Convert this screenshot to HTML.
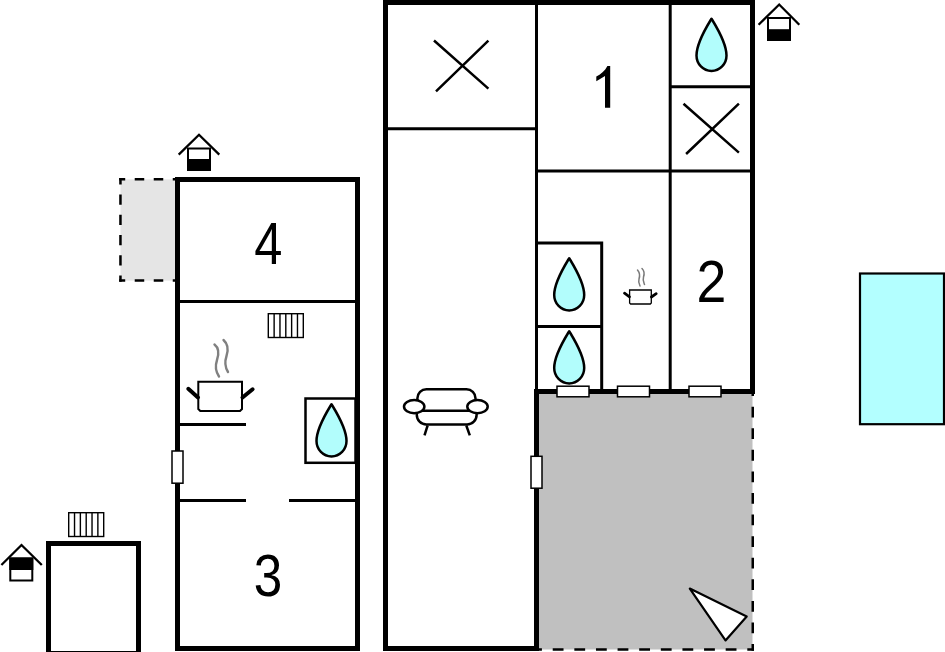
<!DOCTYPE html>
<html><head><meta charset="utf-8">
<style>
html,body{margin:0;padding:0;background:#fff;width:945px;height:652px;overflow:hidden}
svg{display:block}
text{font-family:"Liberation Sans",sans-serif}
</style></head><body>
<svg width="945" height="652" viewBox="0 0 945 652">
<defs>
  <path id="drop" d="M0,-36.8 C5,-28.5 15,-13 15,0 A15,15.5 0 0 1 -15,0 C-15,-13 -5,-28.5 0,-36.8 Z" fill="#b2fdfc" stroke="#000" stroke-width="2.5" stroke-linejoin="round"/>
  <g id="rad">
    <rect x="0.7" y="0.7" width="35" height="23.8" fill="#fff" stroke="#000" stroke-width="1.4"/>
    <path d="M6.53,0.7V24.5M12.37,0.7V24.5M18.2,0.7V24.5M24.03,0.7V24.5M29.87,0.7V24.5" stroke="#000" stroke-width="1.4"/>
  </g>
</defs>

<!-- ===== Building A (rooms 4 & 3) ===== -->
<!-- dashed grey annex -->
<rect x="120.45" y="179.35" width="57" height="101.25" fill="#e5e5e5"/>
<g stroke="#000" stroke-width="2.5" fill="none">
<line x1="120.45" y1="178.1" x2="120.45" y2="281.85" stroke-dasharray="10.125,10.125" stroke-dashoffset="3.81"/>
<line x1="119.2" y1="179.35" x2="178.75" y2="179.35" stroke-dasharray="9.51,9.51" stroke-dashoffset="3.5"/>
<line x1="119.2" y1="280.6" x2="178.75" y2="280.6" stroke-dasharray="9.51,9.51" stroke-dashoffset="3.5"/>
</g>
<rect x="177.5" y="179.5" width="180" height="469" fill="#fff" stroke="#000" stroke-width="5"/>
<line x1="180" y1="301.5" x2="355" y2="301.5" stroke="#000" stroke-width="3"/>
<line x1="180" y1="424.6" x2="246" y2="424.6" stroke="#000" stroke-width="3"/>
<line x1="180" y1="500.6" x2="246" y2="500.6" stroke="#000" stroke-width="3"/>
<line x1="289" y1="500.6" x2="355" y2="500.6" stroke="#000" stroke-width="3"/>
<rect x="305.5" y="398.5" width="50" height="64.3" fill="#fff" stroke="#000" stroke-width="2.5"/>
<use href="#drop" x="331.5" y="441"/>
<use href="#rad" x="267.6" y="313"/>
<rect x="172" y="451" width="11" height="32.2" fill="#fff" stroke="#000" stroke-width="1.5"/>
<!-- pot -->
<g>
  <path d="M198.3,381.8 H242 V409 L240,411 H200.3 L198.3,409 Z" fill="#fff" stroke="#000" stroke-width="2"/>
  <line x1="188.3" y1="388.8" x2="198" y2="397.5" stroke="#000" stroke-width="4" stroke-linecap="round"/>
  <line x1="242.5" y1="397.5" x2="252.6" y2="389.3" stroke="#000" stroke-width="4" stroke-linecap="round"/>
  <path d="M214.5,344.5 C219,348 219,354 217,360 C215,366 216,372 219,376.5" fill="none" stroke="#808080" stroke-width="2.4" stroke-linecap="round"/>
  <path d="M223.5,340 C228,344 228.5,350 226.5,356 C224.5,362 225.5,368 228,372" fill="none" stroke="#808080" stroke-width="2.4" stroke-linecap="round"/>
</g>
<text transform="translate(268.3,263.7) scale(0.85,1)" font-size="59.5" text-anchor="middle">4</text>
<text transform="translate(267.9,595.6) scale(0.865,1)" font-size="59.3" text-anchor="middle">3</text>
<!-- house icon -->
<g>
  <rect x="188" y="148.5" width="22" height="21.5" fill="#fff" stroke="#000" stroke-width="2"/>
  <rect x="187" y="159" width="24" height="12" fill="#000"/>
  <polyline points="178.7,154.6 199,134.8 219.3,154.6" fill="none" stroke="#000" stroke-width="2.3"/>
</g>

<!-- ===== small building bottom-left ===== -->
<rect x="48.5" y="543.5" width="90" height="110" fill="#fff" stroke="#000" stroke-width="5"/>
<use href="#rad" x="68" y="512"/>
<g>
  <rect x="10.3" y="558.5" width="22" height="22" fill="#fff" stroke="#000" stroke-width="2"/>
  <rect x="9.3" y="557.5" width="24" height="12.5" fill="#000"/>
  <polyline points="1.4,565 21.5,545 41.8,565" fill="none" stroke="#000" stroke-width="2.3"/>
</g>

<!-- ===== Main building ===== -->
<!-- grey terrace -->
<rect x="539" y="394" width="213.5" height="255.5" fill="#c0c0c0"/>
<g stroke="#000" stroke-width="2.5" fill="none">
<line x1="752.75" y1="389.25" x2="752.75" y2="650.75" stroke-dasharray="10.79,10.79" stroke-dashoffset="4.15"/>
<line x1="535.25" y1="649.5" x2="754" y2="649.5" stroke-dasharray="10.81,10.81" stroke-dashoffset="4.15"/>
</g>
<!-- outer walls -->
<path d="M385.5,-2 V648.5 H536.5 V391.5 H752.5 V2.5 H385.5" fill="none" stroke="#000" stroke-width="5"/>
<!-- interior lines -->
<line x1="536.5" y1="2" x2="536.5" y2="391" stroke="#000" stroke-width="3"/>
<line x1="388" y1="128.8" x2="536" y2="128.8" stroke="#000" stroke-width="3"/>
<line x1="670.2" y1="2" x2="670.2" y2="391" stroke="#000" stroke-width="3"/>
<line x1="670.2" y1="86.8" x2="750" y2="86.8" stroke="#000" stroke-width="3"/>
<line x1="536.5" y1="171" x2="750" y2="171" stroke="#000" stroke-width="3"/>
<path d="M536.5,243 H601.7 V391" fill="none" stroke="#000" stroke-width="3"/>
<line x1="536.5" y1="326.5" x2="601.7" y2="326.5" stroke="#000" stroke-width="3"/>

<!-- X marks -->
<path d="M434,40.5 L488.4,88.6 M436,91.3 L488.4,40.7" stroke="#000" stroke-width="2.5"/>
<path d="M683.5,103.7 L738.9,152.6 M686.1,154 L738.9,103.7" stroke="#000" stroke-width="2.5"/>
<!-- drops -->
<use href="#drop" x="711.5" y="55.5"/>
<use href="#drop" x="569.2" y="295"/>
<use href="#drop" x="569.2" y="368"/>
<!-- windows on bottom wall -->
<rect x="557" y="386.2" width="32" height="10.6" fill="#fff" stroke="#000" stroke-width="1.5"/>
<rect x="617.5" y="386.2" width="32" height="10.6" fill="#fff" stroke="#000" stroke-width="1.5"/>
<rect x="689" y="386.2" width="32" height="10.6" fill="#fff" stroke="#000" stroke-width="1.5"/>
<!-- door on living room wall -->
<rect x="531" y="456.3" width="11" height="31.9" fill="#fff" stroke="#000" stroke-width="1.5"/>
<!-- small pot -->
<g>
  <path d="M629.6,290 H651.3 V303 L650.3,304 H630.6 L629.6,303 Z" fill="#fff" stroke="#000" stroke-width="1.3"/>
  <line x1="624.5" y1="293.2" x2="629.5" y2="296.8" stroke="#000" stroke-width="2.8" stroke-linecap="round"/>
  <line x1="651.4" y1="297" x2="656.2" y2="293.7" stroke="#000" stroke-width="2.8" stroke-linecap="round"/>
  <path d="M637.5,270 C640,273 640,276 639,279 C638,282 639,284 640,286" fill="none" stroke="#7a7a7a" stroke-width="1.5" stroke-linecap="round"/>
  <path d="M642,268.5 C644.5,271 644.5,274 643.5,277 C642.5,280 643.5,282 644.5,284.5" fill="none" stroke="#7a7a7a" stroke-width="1.5" stroke-linecap="round"/>
</g>
<path d="M605,107.7 V76 L596.3,81.2 V76.4 C600.5,74.5 605,71 607.4,66 H610.2 V107.7 Z" fill="#000"/>
<text transform="translate(711.4,301.7) scale(0.917,1)" font-size="58.5" text-anchor="middle">2</text>
<!-- sofa -->
<g fill="none" stroke="#000" stroke-width="2.5">
  <path d="M417.4,404 V398.3 A9,9 0 0 1 426.4,389.3 H466.5 A9,9 0 0 1 475.5,398.3 V404"/>
  <path d="M416.8,410.7 V415 A9.5,9.5 0 0 0 426.3,424.5 H467.1 A9.5,9.5 0 0 0 476.6,415 V410.7"/>
  <line x1="422" y1="410.7" x2="471" y2="410.7"/>
  <ellipse cx="414.2" cy="406.6" rx="10.2" ry="6.6" fill="#fff"/>
  <ellipse cx="477.5" cy="406.6" rx="10.2" ry="6.6" fill="#fff"/>
  <line x1="427.6" y1="425.5" x2="424.5" y2="435.3"/>
  <line x1="466.3" y1="425.5" x2="469.8" y2="435.3"/>
</g>
<!-- triangle -->
<polygon points="689.8,588.6 746.7,616.5 725.5,640.4" fill="#fff" stroke="#000" stroke-width="2.2" stroke-linejoin="round"/>
<!-- house icon right -->
<g>
  <rect x="768" y="18" width="22" height="22" fill="#fff" stroke="#000" stroke-width="2"/>
  <rect x="767" y="29.2" width="24" height="11.5" fill="#000"/>
  <polyline points="758.6,24.8 779.2,4.5 799.3,24.8" fill="none" stroke="#000" stroke-width="2.3"/>
</g>

<!-- ===== pool ===== -->
<rect x="860" y="273.5" width="84" height="150.7" fill="#b3ffff" stroke="#000" stroke-width="2.2"/>
</svg>
</body></html>
